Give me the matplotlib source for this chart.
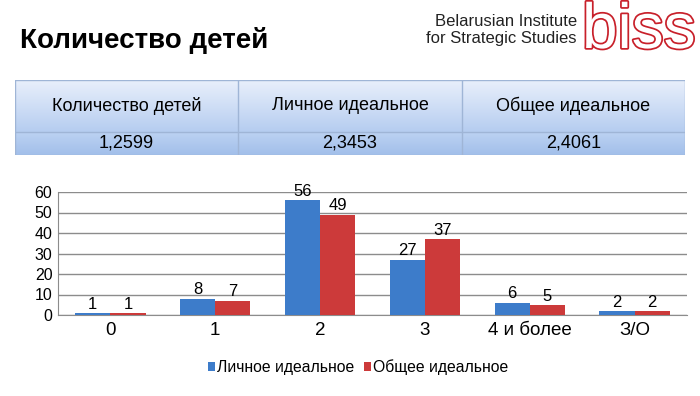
import numpy as np
import matplotlib
matplotlib.use("Agg")
import matplotlib.pyplot as plt
import matplotlib.patheffects as pe

plt.rcParams['font.family'] = ['Liberation Sans', 'DejaVu Sans']

# data
categories = ["0", "1", "2", "3", "4 и более", "З/О"]
personal = [1, 8, 56, 27, 6, 2]
general = [1, 7, 49, 37, 5, 2]
series_names = ["Личное идеальное", "Общее идеальное"]

table_header = ["Количество детей", "Личное идеальное", "Общее идеальное"]
table_values = ["1,2599", "2,3453", "2,4061"]

blue = "#3d7cca"
red = "#cc3a3a"

fig = plt.figure(figsize=(7, 3.96), dpi=100)

# title and logo
fig.text(20/700, 1-40/396, "Количество детей", fontsize=20, fontweight="bold",
         va="center", ha="left")
fig.text(577/700, 1-22/396, "Belarusian Institute", fontsize=12, ha="right", va="center",
         color="#222222")
fig.text(577/700, 1-39/396, "for Strategic Studies", fontsize=12, ha="right", va="center",
         color="#222222")
fig.text(582/700, 1-48/396, "biss", fontsize=46, ha="left", va="baseline", color="white",
         path_effects=[pe.withStroke(linewidth=2.5, foreground="#c8202a")])

# table with gradient
tax = fig.add_axes([15/700, 1-155/396, 670/700, 75/396])
tax.axis("off")
hdr = np.linspace(0, 1, 50).reshape(-1, 1)
tax.imshow(hdr, extent=(0, 3, 23, 75), aspect="auto", origin="upper",
           cmap=matplotlib.colors.LinearSegmentedColormap.from_list("h", ["#e8effb", "#b6cdf0"]))
tax.imshow(hdr, extent=(0, 3, 0, 23), aspect="auto", origin="upper",
           cmap=matplotlib.colors.LinearSegmentedColormap.from_list("v", ["#bcd2f2", "#a2bfea"]))
for xv in [0, 1, 2, 3]:
    tax.plot([xv, xv], [0, 75], color="#9fb5d6", lw=1)
for yv in [0, 23, 75]:
    tax.plot([0, 3], [yv, yv], color="#9fb5d6", lw=1)
for i in range(3):
    tax.text(i + 0.5, 49, table_header[i], ha="center", va="center", fontsize=13)
    tax.text(i + 0.5, 11.5, table_values[i], ha="center", va="center", fontsize=13)
tax.set_xlim(0, 3)
tax.set_ylim(0, 75)

# bar chart
ax = fig.add_axes([58/700, 1-315/396, 629/700, 123/396])
x = np.arange(len(categories))
w = 0.335
b1 = ax.bar(x - w/2, personal, w, color=blue, label=series_names[0], zorder=3)
b2 = ax.bar(x + w/2, general, w, color=red, label=series_names[1], zorder=3)
for bars, vals in [(b1, personal), (b2, general)]:
    for rect, v in zip(bars, vals):
        ax.text(rect.get_x() + rect.get_width()/2, v + 0.6, str(v), ha="center",
                va="bottom", fontsize=12)
ax.set_xlim(-0.5, len(categories) - 0.5)
ax.set_ylim(0, 60)
ax.set_yticks(range(0, 61, 10))
ax.set_xticks(x)
ax.set_xticklabels(categories, fontsize=13.5)
ax.tick_params(axis="y", labelsize=11.5, length=0, pad=4)
ax.tick_params(axis="x", length=0, pad=5)
ax.grid(axis="y", color="#8c8c8c", lw=1, zorder=0)
for s in ["top", "right"]:
    ax.spines[s].set_visible(False)
ax.spines["left"].set_color("#8c8c8c")
ax.spines["bottom"].set_color("#8c8c8c")

fig.legend(handles=[b1, b2], labels=series_names, loc="center",
           bbox_to_anchor=(358/700, 1-367/396), ncol=2, frameon=False, fontsize=11.3,
           handlelength=0.45, handleheight=0.45, handletextpad=0.15, columnspacing=0.6)

fig.savefig("out.png", dpi=100)
